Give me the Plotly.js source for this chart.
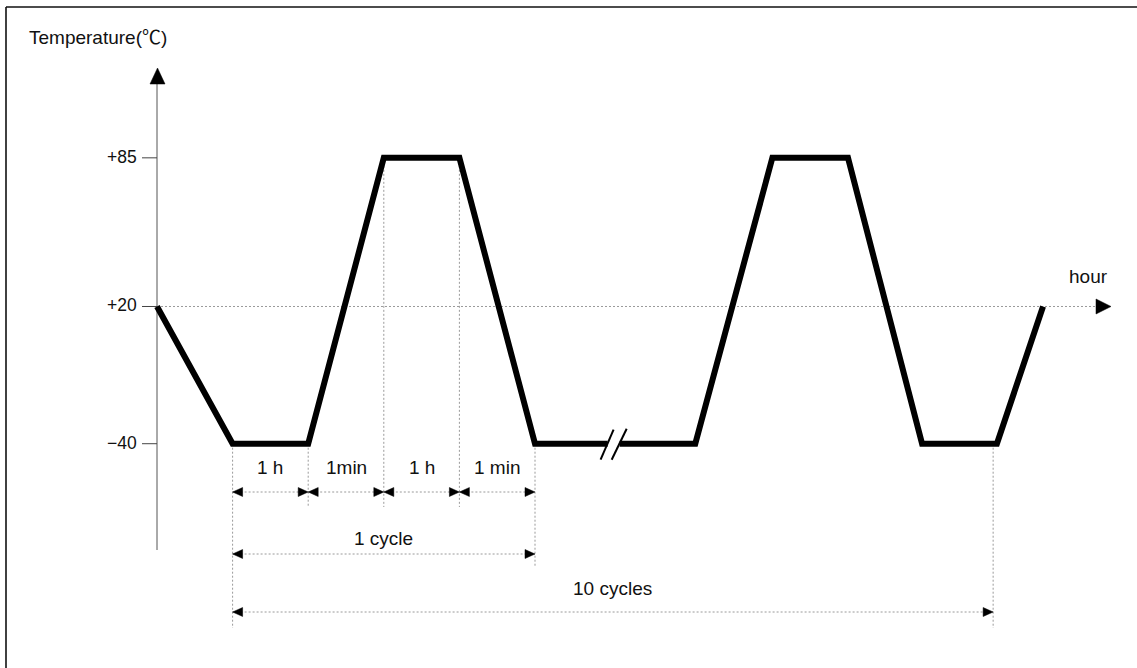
<!DOCTYPE html>
<html><head><meta charset="utf-8">
<script src="https://cdn.plot.ly/plotly-3.0.1.min.js"></script>
<style>html,body{margin:0;padding:0;background:#fff}</style>
</head><body><div id="chart" style="width:1137px;height:668px"></div>
<script>
// ---- data ----
const yTitle = 'Temperature(<span style="font-family:Noto Sans CJK KR">\u2103</span>)';
const xTitle = 'hour';
const tempTicks = [85, 20, -40];
const tempTickText = ['+85', '+20', '\u221240'];
const timeA = [0, 1, 2, 3, 4, 5, 5.96];
const tempA = [20, -40, -40, 85, 85, -40, -40];
const timeB = [6.12, 7.12, 8.14, 9.14, 10.12, 11.11, 11.72];
const tempB = [-40, -40, 85, 85, -40, -40, 20];
const phaseLabels = ['1 h', '1min', '1 h', '1 min'];
const cycleLabel = '1 cycle';
const totalLabel = '10 cycles';
const totalEnd = 11.06;

// ---- scales (pixel helpers for decoration) ----
const W = 1137, H = 668;
const X0 = 157, KX = 75.6;
const YM = 302.67, TM = 21.67, KY = 2.287;
const X = px => (px - X0) / KX;
const Y = py => TM - (py - YM) / KY;
const PX = t => X0 + KX * t;
const PY = T => YM - KY * (T - TM);

const shapes = [];
const annotations = [];
const dotted = {color: '#9a9a9a', width: 1, dash: '2px,2px'};
const fam = 'Liberation Sans, Noto Sans CJK KR, sans-serif';
const font = {family: fam, size: 19, color: '#111'};
const tickFont = {family: fam, size: 17.5, color: '#111'};

function line(x0, y0, x1, y1, ln, layer) {
  shapes.push({type: 'line', xref: 'x', yref: 'y', x0: x0, y0: y0, x1: x1, y1: y1, line: ln, layer: layer || 'below'});
}
function tri(pts) { // pts in pixels
  let p = 'M ' + pts.map(q => X(q[0]) + ',' + Y(q[1])).join(' L ') + ' Z';
  shapes.push({type: 'path', xref: 'x', yref: 'y', path: p, fillcolor: '#000', line: {color: '#000', width: 0.5}, layer: 'above'});
}
function text(t, px, py, anchor, f) {
  annotations.push({text: t, x: X(px), y: Y(py), xref: 'x', yref: 'y', showarrow: false,
    xanchor: anchor || 'center', yanchor: 'middle', font: f || font, borderpad: 0});
}

// frame
shapes.push({type: 'line', xref: 'paper', yref: 'paper', x0: 6 / W, x1: 1, y0: 1 - 7 / H, y1: 1 - 7 / H, line: {color: '#111', width: 1.6}});
shapes.push({type: 'line', xref: 'paper', yref: 'paper', x0: 6 / W, x1: 6 / W, y0: 0, y1: 1 - 7 / H, line: {color: '#111', width: 1.6}});

// y axis
line(0, Y(83), 0, Y(550), {color: '#555', width: 1});
tri([[150, 84], [165, 84], [157.5, 68]]);
tempTicks.forEach((T, i) => {
  line(X(142), T, 0, T, {color: '#444', width: 1});
  text(tempTickText[i], 138, PY(T) - 1, 'right', tickFont);
});
text(yTitle, 28, 35, 'left');

// time axis (dotted at +20)
const y20 = PY(20);
line(0, 20, X(1096), 20, dotted);
tri([[1096, y20 - 7.5], [1096, y20 + 7.5], [1111, y20]]);
text(xTitle, 1068, 276, 'left');

// vertical guide lines
const guides = [
  [timeA[1], tempA[1], 628], [timeA[2], tempA[2], 507], [timeA[3], tempA[3], 507],
  [timeA[4], tempA[4], 507], [timeA[5], tempA[5], 566], [totalEnd, -40, 628]
];
guides.forEach(g => line(g[0], g[1], g[0], Y(g[2]), dotted));

// dimension lines
function dim(t1, t2, py, label, ly) {
  const a = PX(t1), b = PX(t2);
  line(t1, Y(py), t2, Y(py), dotted);
  tri([[a, py], [a + 10, py - 4.5], [a + 10, py + 4.5]]);
  tri([[b, py], [b - 10, py - 4.5], [b - 10, py + 4.5]]);
  text(label, (a + b) / 2, ly);
}
for (let i = 0; i < 4; i++) dim(timeA[i + 1], timeA[i + 2], 492, phaseLabels[i], 467);
dim(timeA[1], timeA[5], 554, cycleLabel, 538);
dim(timeA[1], totalEnd, 612, totalLabel, 588);

// break marks
const bA = PX(timeA[timeA.length - 1]), bB = PX(timeB[0]), by = PY(-40);
line(X(bA - 7), Y(by + 16), X(bA + 6), Y(by - 14), {color: '#000', width: 2}, 'above');
line(X(bB - 8), Y(by + 16), X(bB + 7), Y(by - 15), {color: '#000', width: 2}, 'above');

const prof = {color: '#000', width: 6};
const traces = [
  {x: timeA, y: tempA, type: 'scatter', mode: 'lines', line: prof, hoverinfo: 'skip'},
  {x: timeB, y: tempB, type: 'scatter', mode: 'lines', line: prof, hoverinfo: 'skip'}
];

const layout = {
  width: W, height: H, margin: {l: 0, r: 0, t: 0, b: 0},
  paper_bgcolor: '#fff', plot_bgcolor: '#fff', showlegend: false,
  xaxis: {range: [X(0), X(W)], visible: false, fixedrange: true},
  yaxis: {range: [Y(H), Y(0)], visible: false, fixedrange: true},
  shapes: shapes, annotations: annotations
};
Plotly.newPlot('chart', traces, layout, {staticPlot: true, displayModeBar: false});
</script></body></html>
